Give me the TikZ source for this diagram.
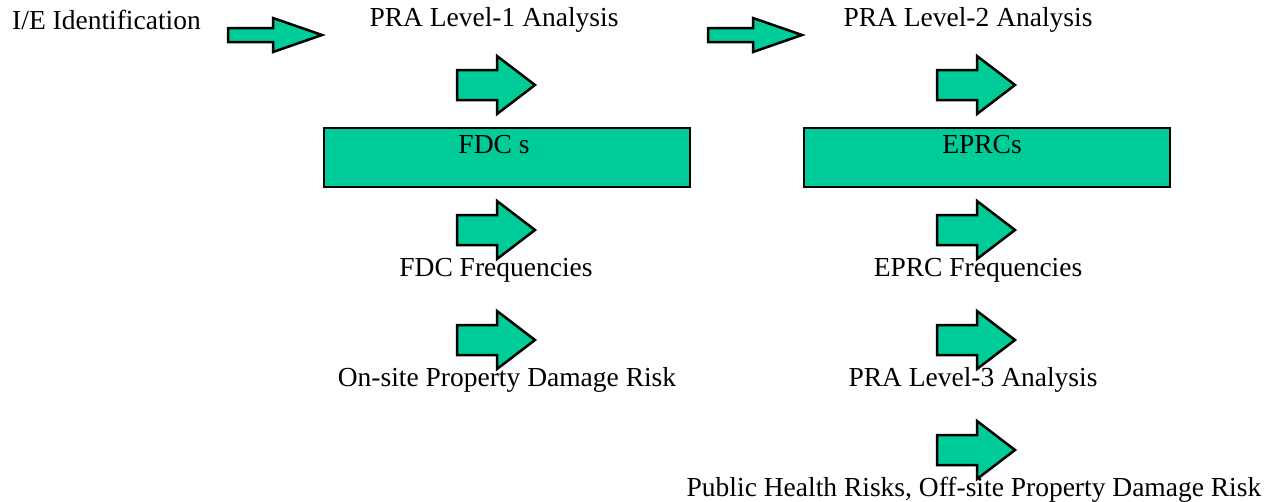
\documentclass[tikz,border=0pt]{standalone}
\usepackage{fontspec}
\setmainfont{Liberation Serif}

\definecolor{pragreen}{RGB}{0,204,153}

\tikzset{
    arrowfill/.style={draw=black, fill=pragreen, line width=2.5pt, line join=miter},
    box/.style={draw=black, fill=pragreen, line width=2.5pt, minimum width=366pt, minimum height=59pt, inner sep=0pt},
    label/.style={inner sep=0pt, font=\fontsize{27.5}{32}\selectfont},
    bigarrow/.pic={\draw[arrowfill] (-39,-15) -- (1,-15) -- (1,-29) -- (39,0) -- (1,29) -- (1,15) -- (-39,15) -- cycle;},
    smallarrow/.pic={\draw[arrowfill] (-47,-7) -- (-2,-7) -- (-2,-17) -- (47,0) -- (-2,17) -- (-2,7) -- (-47,7) -- cycle;}
}

\begin{document}
\begin{tikzpicture}[x=1pt, y=-1pt]
    \useasboundingbox (0,0) rectangle (1282,501);

    % Top row
    \node (ie) [label, anchor=west] at (12,20) {I/E Identification};
    \node (lvl1) [label] at (494,20) {PRA Level-1 Analysis};
    \node (lvl2) [label] at (968,20) {PRA Level-2 Analysis};
    \pic at (275,35) {smallarrow};
    \pic at (755,35) {smallarrow};

    % Level-1 column
    \pic at (496,85) {bigarrow};
    \node (fdcbox) [box] at (507,157.5) {};
    \node (fdc) [label] at (494,145) {FDC s};
    \pic at (496,230) {bigarrow};
    \node (fdcfreq) [label] at (496,270) {FDC Frequencies};
    \pic at (496,340) {bigarrow};
    \node (onsite) [label] at (507,380) {On-site Property Damage Risk};

    % Level-2 column
    \pic at (976,85) {bigarrow};
    \node (eprcbox) [box] at (987,157.5) {};
    \node (eprc) [label] at (982,145) {EPRCs};
    \pic at (976,230) {bigarrow};
    \node (eprcfreq) [label] at (978,270) {EPRC Frequencies};
    \pic at (976,340) {bigarrow};
    \node (lvl3) [label] at (973,380) {PRA Level-3 Analysis};
    \pic at (976,450) {bigarrow};
    \node (offsite) [label] at (974,490) {Public Health Risks, Off-site Property Damage Risk};
\end{tikzpicture}
\end{document}
